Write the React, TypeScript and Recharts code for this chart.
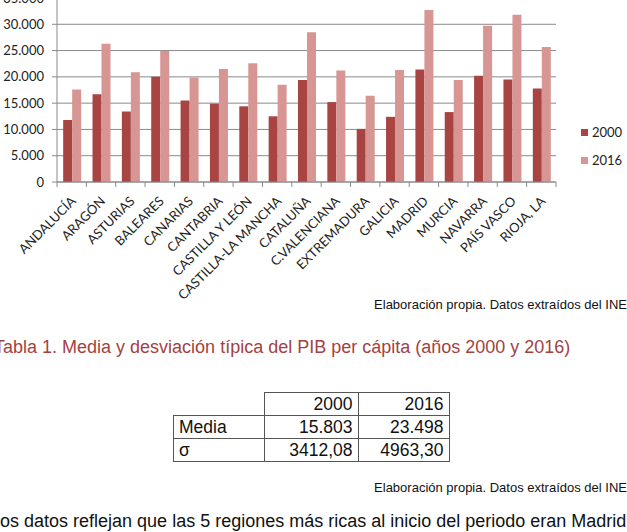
import React from 'react';
import { BarChart, Bar, XAxis, YAxis, CartesianGrid, Legend } from 'recharts';

const regions = ['ANDALUCÍA', 'ARAGÓN', 'ASTURIAS', 'BALEARES', 'CANARIAS', 'CANTABRIA', 'CASTILLA Y LEÓN', 'CASTILLA-LA MANCHA', 'CATALUÑA', 'C.VALENCIANA', 'EXTREMADURA', 'GALICIA', 'MADRID', 'MURCIA', 'NAVARRA', 'PAÍS VASCO', 'RIOJA, LA'];
const pib2000 = [11800, 16700, 13400, 20000, 15500, 14900, 14400, 12500, 19400, 15200, 10100, 12400, 21400, 13300, 20200, 19500, 17800];
const pib2016 = [17600, 26300, 20900, 24900, 19900, 21500, 22600, 18500, 28500, 21200, 16400, 21300, 32700, 19400, 29700, 31800, 25700];
const yTicks = [0, 5000, 10000, 15000, 20000, 25000, 30000, 35000];
const seriesNames = ['2000', '2016'];
const seriesColors = ['#A84543', '#D79593'];

const sourceNote = 'Elaboración propia. Datos extraídos del INE';
const tableTitle = 'Tabla 1. Media y desviación típica del PIB per cápita (años 2000 y 2016)';
const tableHeader = ['', '2000', '2016'];
const tableRows = [
  ['Media', '15.803', '23.498'],
  ['σ', '3412,08', '4963,30'],
];
const bottomText = 'Los datos reflejan que las 5 regiones más ricas al inicio del periodo eran Madrid';

const data = regions.map((r, i) => ({ region: r, v2000: pib2000[i], v2016: pib2016[i] }));

const fmt = (n: number) => String(n).replace(/\B(?=(\d{3})+(?!\d))/g, '.');

const GRAY = '#8a8a8a';
const CHART_FONT = 'Lato, "Open Sans", sans-serif';
const TEXT_FONT = '"Liberation Sans", Arial, sans-serif';
const colWidths = [80, 83, 80];

const XTick = (props: any) => {
  const { x, y, payload, index, visibleTicksCount, width } = props;
  const n = visibleTicksCount || regions.length;
  const bw = (width || 499) / n;
  const axisY = y - 5;
  const ax = x + 5;
  const ay = y + 15;
  return (
    <g>
      <line x1={x - bw / 2} x2={x - bw / 2} y1={axisY} y2={axisY + 5} stroke={GRAY} />
      {index === n - 1 && <line x1={x + bw / 2} x2={x + bw / 2} y1={axisY} y2={axisY + 5} stroke={GRAY} />}
      <text x={ax} y={ay} transform={`rotate(-45, ${ax}, ${ay})`} textAnchor="end" fontSize={13} fontFamily={CHART_FONT} fill="#222">
        {payload.value}
      </text>
    </g>
  );
};

const LegendContent = () => (
  <div style={{ fontFamily: CHART_FONT, fontSize: 13, color: '#222' }}>
    {seriesNames.map((s, i) => (
      <div key={s} style={{ display: 'flex', alignItems: 'center', height: 28 }}>
        <span style={{ display: 'inline-block', width: 7, height: 7, background: seriesColors[i], marginRight: 4 }} />
        <span>{s}</span>
      </div>
    ))}
  </div>
);

export default function App() {
  return (
    <div style={{ position: 'absolute', left: 0, top: 0, width: 627, height: 532, overflow: 'hidden', background: '#fff' }}>
      <div style={{ position: 'absolute', left: 0, top: -20 }}>
        <BarChart width={627} height={330} data={data} margin={{ top: 18, right: 71, left: 0, bottom: 0 }} barCategoryGap="21%" barGap={0}>
          <CartesianGrid vertical={false} stroke={GRAY} />
          <XAxis dataKey="region" interval={0} height={128} tickLine={false} tickSize={5} tickMargin={0} stroke={GRAY} tick={<XTick />} />
          <YAxis width={57} domain={[0, 35000]} ticks={yTicks} tickSize={5} tickMargin={8} stroke={GRAY} tickFormatter={fmt}
            tick={{ fontSize: 13, fontFamily: CHART_FONT, fill: '#222' }} interval={0} />
          <Legend layout="vertical" align="center" verticalAlign="middle" content={<LegendContent />}
            wrapperStyle={{ left: 581, top: 138, width: 'auto' }} />
          <Bar dataKey="v2000" name={seriesNames[0]} fill={seriesColors[0]} isAnimationActive={false} />
          <Bar dataKey="v2016" name={seriesNames[1]} fill={seriesColors[1]} isAnimationActive={false} />
        </BarChart>
      </div>
      <div style={{ position: 'absolute', right: 0, top: 297, fontFamily: TEXT_FONT, fontSize: 13, color: '#111', whiteSpace: 'nowrap' }}>{sourceNote}</div>
      <div style={{ position: 'absolute', left: -6, top: 337, fontFamily: TEXT_FONT, fontSize: 18, color: '#A4423F', whiteSpace: 'nowrap' }}>{tableTitle}</div>
      <table style={{ position: 'absolute', left: 173, top: 392, borderCollapse: 'collapse', fontFamily: TEXT_FONT, fontSize: 17.5, color: '#111' }}>
        <tbody>
          <tr style={{ height: 23 }}>
            {tableHeader.map((h, i) => (
              <td key={i} style={{
                width: colWidths[i], padding: '0 5px', textAlign: i === 0 ? 'left' : 'right', lineHeight: '21px',
                borderTop: i === 0 ? 'none' : '1px solid #555', borderLeft: i === 0 ? 'none' : '1px solid #555',
                borderRight: '1px solid #555', borderBottom: '1px solid #555',
              }}>{h}</td>
            ))}
          </tr>
          {tableRows.map((row, r) => (
            <tr key={r} style={{ height: 23 }}>
              {row.map((c, i) => (
                <td key={i} style={{ padding: '0 5px', textAlign: i === 0 ? 'left' : 'right', border: '1px solid #555', lineHeight: '21px' }}>{c}</td>
              ))}
            </tr>
          ))}
        </tbody>
      </table>
      <div style={{ position: 'absolute', right: 0, top: 480, fontFamily: TEXT_FONT, fontSize: 13, color: '#111', whiteSpace: 'nowrap' }}>{sourceNote}</div>
      <div style={{ position: 'absolute', left: -10, top: 511, fontFamily: TEXT_FONT, fontSize: 18, color: '#111', whiteSpace: 'nowrap' }}>{bottomText}</div>
    </div>
  );
}
